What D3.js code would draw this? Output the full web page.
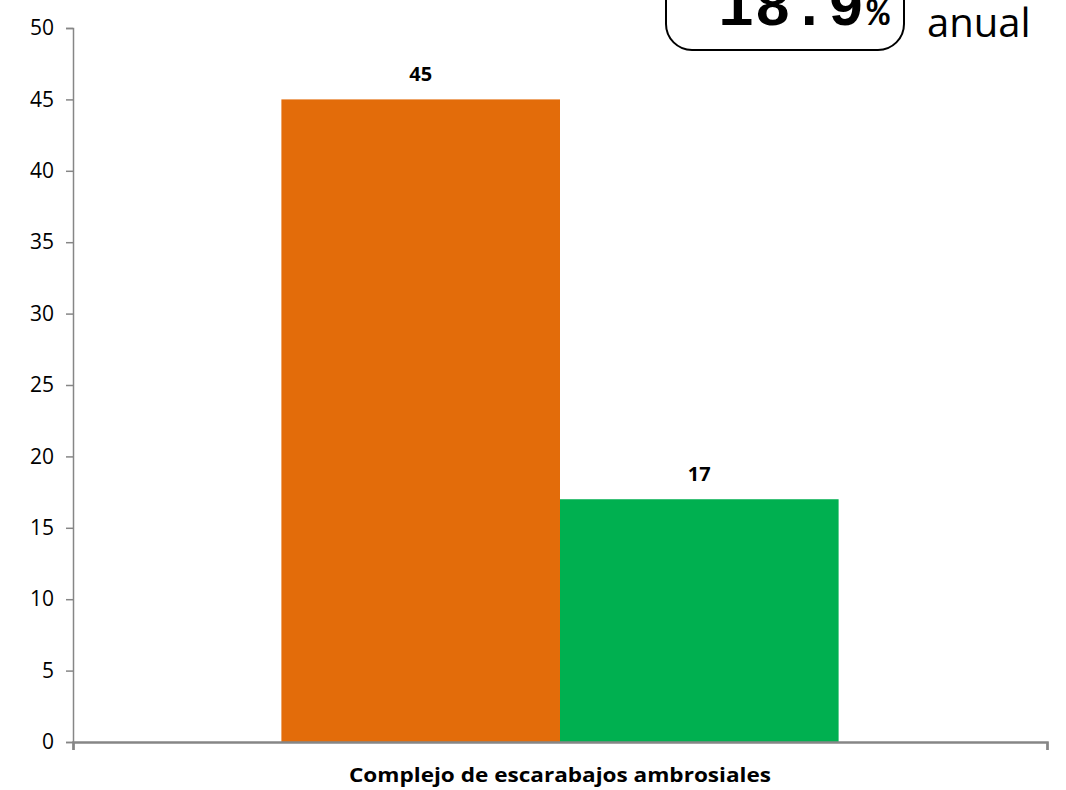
<!DOCTYPE html>
<html>
<head>
<meta charset="utf-8">
<script src="https://cdn.jsdelivr.net/npm/d3@7"></script>
<style>
  body { margin: 0; background: #fff; }
  svg { display: block; font-family: "Open Sans", "DejaVu Sans", sans-serif; }
</style>
</head>
<body>
<div id="chart"></div>
<script>
const categories = ['Complejo de escarabajos ambrosiales'];
const seriesNames = ['Antes', 'Después'];
const seriesValues = [45, 17];
const seriesColors = ['#e36c0a', '#00b050'];
const yTicks = [0, 5, 10, 15, 20, 25, 30, 35, 40, 45, 50];
const calloutValue = '18.9';
const calloutUnit = '%';
const calloutText = 'anual';

const width = 1066, height = 790;
const margin = { top: 28, right: 19, bottom: 48, left: 73 };

const svg = d3.select('#chart').append('svg')
  .attr('width', width)
  .attr('height', height);

// scales
const x = d3.scaleBand()
  .domain(categories)
  .range([margin.left, width - margin.right])
  .paddingInner(0)
  .paddingOuter(0.374);

const xSeries = d3.scaleBand()
  .domain(seriesNames)
  .range([0, x.bandwidth()]);

const y = d3.scaleLinear()
  .domain([0, 50])
  .range([height - margin.bottom, margin.top]);

// bars
const group = svg.append('g')
  .selectAll('g')
  .data(categories)
  .join('g')
  .attr('transform', d => 'translate(' + x(d) + ',0)');

const barData = seriesNames.map((s, i) => ({ name: s, value: seriesValues[i], color: seriesColors[i] }));

group.selectAll('rect')
  .data(barData)
  .join('rect')
  .attr('x', d => xSeries(d.name))
  .attr('y', d => y(d.value))
  .attr('width', xSeries.bandwidth())
  .attr('height', d => y(0) - y(d.value))
  .attr('fill', d => d.color);

// value labels
group.selectAll('text')
  .data(barData)
  .join('text')
  .attr('x', d => xSeries(d.name) + xSeries.bandwidth() / 2)
  .attr('y', d => y(d.value) - 18)
  .attr('text-anchor', 'middle')
  .style('font-size', '20px')
  .style('font-weight', 'bold')
  .attr('fill', '#000')
  .text(d => d.value);

// y axis
const yAxis = svg.append('g')
  .attr('transform', 'translate(' + margin.left + ',0)')
  .call(d3.axisLeft(y).tickValues(yTicks).tickSize(7).tickPadding(12));

yAxis.select('.domain').attr('stroke', '#868686').attr('stroke-width', 1.5);
yAxis.selectAll('.tick line').attr('stroke', '#868686').attr('stroke-width', 1.5);
yAxis.selectAll('.tick text')
  .style('font-size', '21px')
  .style('font-family', '"Open Sans", sans-serif')
  .attr('fill', '#000');

// x axis
const xEdges = d3.scaleLinear().domain([0, 1]).range([margin.left, width - margin.right]);
const xAxis = svg.append('g')
  .attr('transform', 'translate(0,' + y(0) + ')')
  .call(d3.axisBottom(xEdges).tickValues([0, 1]).tickSize(8).tickFormat(''));

xAxis.select('.domain').attr('stroke', '#868686').attr('stroke-width', 2.5);
xAxis.selectAll('.tick line').attr('stroke', '#868686').attr('stroke-width', 2);

svg.append('g')
  .selectAll('text')
  .data(categories)
  .join('text')
  .attr('x', d => x(d) + x.bandwidth() / 2)
  .attr('y', height - 8)
  .attr('text-anchor', 'middle')
  .style('font-size', '20px')
  .style('font-weight', 'bold')
  .attr('textLength', 422)
  .attr('lengthAdjust', 'spacingAndGlyphs')
  .text(d => d);

// callout box at top right (partly cut off)
const callout = svg.append('g');
callout.append('rect')
  .attr('x', 666)
  .attr('y', -40)
  .attr('width', 238)
  .attr('height', 90)
  .attr('rx', 26)
  .attr('fill', '#fff')
  .attr('stroke', '#000')
  .attr('stroke-width', 2);

const big = callout.append('text')
  .attr('x', 718)
  .attr('y', 25)
  .style('font-family', '"Liberation Mono", "DejaVu Sans Mono", monospace')
  .style('font-weight', 'bold')
  .attr('fill', '#000');
big.append('tspan').style('font-size', '60px').attr('textLength', 146).text(calloutValue);
big.append('tspan').style('font-size', '38px').attr('dx', 2).text(calloutUnit);

callout.append('text')
  .attr('x', 927)
  .attr('y', 37)
  .style('font-size', '40px')
  .style('font-family', '"Open Sans", sans-serif')
  .attr('fill', '#000')
  .text(calloutText);
</script>
</body>
</html>
